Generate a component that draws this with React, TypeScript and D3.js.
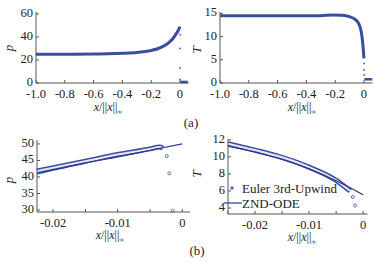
import React from "react";
import * as d3 from "d3";

// ---------- data ----------
// Panel (a) left: pressure p vs x/||x||
const aPX = [-1, -0.8, -0.6, -0.5, -0.4, -0.3, -0.2, -0.15, -0.1, -0.07, -0.05, -0.03, -0.015, -0.005, 0];
const aPY = [25, 25, 25.2, 25.4, 25.8, 26.5, 28.3, 30, 33, 36, 38.5, 42, 45, 47.5, 49];
const aPShockX = [0.001, 0.001, 0.001, 0.001];
const aPShockY = [42, 30, 13, 3];
const aPPostX = [0.003, 0.055];
const aPPostY = [0.9, 0.9];

// Panel (a) right: temperature T
const aTX = [-1, -0.6, -0.3, -0.22, -0.15, -0.1, -0.07, -0.05, -0.035, -0.02, -0.01, -0.004, 0];
const aTY = [14.5, 14.5, 14.5, 14.65, 14.6, 14.3, 13.9, 13.4, 12.7, 11.2, 9, 7, 5.3];
const aTShockX = [0.001, 0.001, 0.001];
const aTShockY = [4.2, 2.8, 1.7];
const aTPostX = [0.003, 0.058];
const aTPostY = [0.8, 0.8];

// Panel (b) left: zoom p
const bPZndX = [-0.0225, -0.015, -0.01, -0.005, 0];
const bPZndY = [40.9, 44.2, 46.1, 48.1, 50.0];
const bPEulX = [-0.0225, -0.015, -0.01, -0.005, -0.0035, -0.003];
const bPEulY = [41.8, 44.8, 46.8, 48.5, 49.1, 48.8];
const bPDotX = [-0.0024, -0.002, -0.0015];
const bPDotY = [46.3, 41.1, 29.8];

// Panel (b) right: zoom T
const bTZndX = [-0.025, -0.02, -0.015, -0.01, -0.005, -0.0025, 0];
const bTZndY = [11.25, 10.55, 9.7, 8.6, 7.2, 6.4, 5.55];
const bTEulX = [-0.025, -0.02, -0.015, -0.01, -0.005, -0.0024];
const bTEulY = [11.55, 10.8, 9.95, 8.8, 7.25, 6.0];
const bTDotX = [-0.0019, -0.0015];
const bTDotY = [5.3, 4.3];

// ticks
const aXTicks = [-1, -0.8, -0.6, -0.4, -0.2, 0];
const aXTickLabels = ["-1.0", "-0.8", "-0.6", "-0.4", "-0.2", "0"];
const aPYTicks = [0, 20, 40, 60];
const aTYTicks = [0, 5, 10, 15];
const bXTicks = [-0.02, -0.015, -0.01, -0.005, 0];
const bXTickLabels = ["-0.02", "", "-0.01", "", "0"];
const bXTicksR = [-0.025, -0.02, -0.015, -0.01, -0.005, 0];
const bXTickLabelsR = ["", "-0.02", "", "-0.01", "", "0"];
const bPYTicks = [30, 35, 40, 45, 50];
const bTYTicks = [4, 6, 8, 10, 12];

const legendLabels = ["Euler 3rd-Upwind", "ZND-ODE"];

const FONT = "'Liberation Serif', 'Times New Roman', Times, serif";
const EUL = "#3a4da0";
const ZND = "#2a3a8a";
const DOT = "#5c6db3";
const AXIS = "#555";

const zip = (xs: number[], ys: number[]) => xs.map((x, i) => [x, ys[i]] as [number, number]);

type PanelProps = {
  xDomain: [number, number];
  xRange: [number, number];
  yDomain: [number, number];
  yRange: [number, number];
  xTicks: number[];
  xLabels: string[];
  yTicks: number[];
  yLabel: string;
  yLabelPos: [number, number];
  xLabelPos: [number, number];
  children: (x: d3.ScaleLinear<number, number>, y: d3.ScaleLinear<number, number>) => React.ReactNode;
};

function Panel(p: PanelProps) {
  const x = d3.scaleLinear().domain(p.xDomain).range(p.xRange);
  const y = d3.scaleLinear().domain(p.yDomain).range(p.yRange);
  const y0 = p.yRange[0];
  const x0 = p.xRange[0];
  return (
    <g>
      {p.children(x, y)}
      <line x1={x0} x2={p.xRange[1]} y1={y0} y2={y0} stroke={AXIS} strokeWidth={1} />
      <line x1={x0} x2={x0} y1={y0} y2={p.yRange[1]} stroke={AXIS} strokeWidth={1} />
      {p.xTicks.map((t, i) => (
        <g key={"xt" + i}>
          <line x1={x(t)} x2={x(t)} y1={y0} y2={y0 - 3} stroke={AXIS} />
          <text x={x(t)} y={y0 + 15} textAnchor="middle" fontSize={12.5} fontFamily={FONT} fill="#222">
            {p.xLabels[i]}
          </text>
        </g>
      ))}
      {p.yTicks.map((t, i) => (
        <g key={"yt" + i}>
          <line x1={x0} x2={x0 + 3} y1={y(t)} y2={y(t)} stroke={AXIS} />
          <text x={x0 - 3} y={y(t) + 3} textAnchor="end" fontSize={12.5} fontFamily={FONT} fill="#222">
            {String(t)}
          </text>
        </g>
      ))}
      <text
        transform={`translate(${p.yLabelPos[0]},${p.yLabelPos[1]}) rotate(-90)`}
        textAnchor="middle"
        fontSize={13}
        fontStyle="italic"
        fontFamily={FONT}
        fill="#222"
      >
        {p.yLabel}
      </text>
      <text x={p.xLabelPos[0]} y={p.xLabelPos[1]} textAnchor="middle" fontSize={12} fontFamily={FONT} fill="#222">
        <tspan fontStyle="italic">x</tspan>/||<tspan fontStyle="italic">x</tspan>||
        <tspan fontSize={7} dy={3}>∞</tspan>
      </text>
    </g>
  );
}

export default function App() {
  const line = (x: d3.ScaleLinear<number, number>, y: d3.ScaleLinear<number, number>, curve = d3.curveMonotoneX) =>
    d3
      .line<[number, number]>()
      .x((d) => x(d[0]))
      .y((d) => y(d[1]))
      .curve(curve);

  return (
    <svg width={383} height={262} style={{ position: "absolute", left: 0, top: 0, background: "#fff" }}>
      <rect width={383} height={262} fill="#fff" />
      {/* (a) left */}
      <Panel
        xDomain={[-1, 0.06]}
        xRange={[36, 188.6]}
        yDomain={[0, 61.7]}
        yRange={[83, 12]}
        xTicks={aXTicks}
        xLabels={aXTickLabels}
        yTicks={aPYTicks}
        yLabel="p"
        yLabelPos={[13, 48]}
        xLabelPos={[108, 111]}
      >
        {(x, y) => (
          <g>
            <path d={line(x, y)(zip(aPX, aPY)) || ""} fill="none" stroke={EUL} strokeWidth={3} />
            <path d={line(x, y, d3.curveLinear)(zip(aPPostX, aPPostY)) || ""} fill="none" stroke={EUL} strokeWidth={2.5} />
            {zip(aPShockX, aPShockY).map((d, i) => (
              <circle key={i} cx={x(d[0])} cy={y(d[1])} r={1} fill={DOT} />
            ))}
          </g>
        )}
      </Panel>
      {/* (a) right */}
      <Panel
        xDomain={[-1, 0.06]}
        xRange={[220, 372.6]}
        yDomain={[0, 15.3]}
        yRange={[83, 12]}
        xTicks={aXTicks}
        xLabels={aXTickLabels}
        yTicks={aTYTicks}
        yLabel="T"
        yLabelPos={[201, 50]}
        xLabelPos={[302, 111]}
      >
        {(x, y) => (
          <g>
            <path d={line(x, y)(zip(aTX, aTY)) || ""} fill="none" stroke={EUL} strokeWidth={3} />
            <path d={line(x, y, d3.curveLinear)(zip(aTPostX, aTPostY)) || ""} fill="none" stroke={EUL} strokeWidth={2.5} />
            {zip(aTShockX, aTShockY).map((d, i) => (
              <circle key={i} cx={x(d[0])} cy={y(d[1])} r={1} fill={DOT} />
            ))}
          </g>
        )}
      </Panel>
      {/* (b) left */}
      <Panel
        xDomain={[-0.0225, 0.0012]}
        xRange={[37, 190]}
        yDomain={[29.4, 51.2]}
        yRange={[212, 140]}
        xTicks={bXTicks}
        xLabels={bXTickLabels}
        yTicks={bPYTicks}
        yLabel="p"
        yLabelPos={[13, 180]}
        xLabelPos={[110, 239]}
      >
        {(x, y) => (
          <g>
            <path d={line(x, y)(zip(bPEulX, bPEulY)) || ""} fill="none" stroke={EUL} strokeWidth={5} />
            <path d={line(x, y)(zip(bPEulX, bPEulY)) || ""} fill="none" stroke="#e6e8f2" strokeWidth={2} />
            <path d={line(x, y)(zip(bPZndX, bPZndY)) || ""} fill="none" stroke={ZND} strokeWidth={1.2} />
            {zip(bPDotX, bPDotY).map((d, i) => (
              <circle key={i} cx={x(d[0])} cy={y(d[1])} r={1.5} fill="#fff" stroke={DOT} strokeWidth={1} />
            ))}
          </g>
        )}
      </Panel>
      {/* (b) right */}
      <Panel
        xDomain={[-0.025, 0.0008]}
        xRange={[228, 367.5]}
        yDomain={[3.3, 12.1]}
        yRange={[214, 139]}
        xTicks={bXTicksR}
        xLabels={bXTickLabelsR}
        yTicks={bTYTicks}
        yLabel="T"
        yLabelPos={[201, 174]}
        xLabelPos={[302, 241]}
      >
        {(x, y) => (
          <g>
            <path d={line(x, y)(zip(bTEulX, bTEulY)) || ""} fill="none" stroke={EUL} strokeWidth={5} />
            <path d={line(x, y)(zip(bTEulX, bTEulY)) || ""} fill="none" stroke="#e6e8f2" strokeWidth={2} />
            <path d={line(x, y)(zip(bTZndX, bTZndY)) || ""} fill="none" stroke={ZND} strokeWidth={1.2} />
            {zip(bTDotX, bTDotY).map((d, i) => (
              <circle key={i} cx={x(d[0])} cy={y(d[1])} r={1.5} fill="#fff" stroke={DOT} strokeWidth={1} />
            ))}
          </g>
        )}
      </Panel>
      {/* legend */}
      <g fontFamily={FONT} fontSize={13} fill="#222">
        <circle cx={232} cy={188} r={1.5} fill={DOT} stroke={DOT} strokeWidth={0.5} />
        <text x={242} y={193}>{legendLabels[0]}</text>
        <line x1={224} x2={242} y1={203} y2={203} stroke={ZND} strokeWidth={1.2} />
        <text x={242} y={207.5}>{legendLabels[1]}</text>
      </g>
      <text x={191} y={127} textAnchor="middle" fontFamily={FONT} fontSize={13} fill="#222">(a)</text>
      <text x={197} y={255} textAnchor="middle" fontFamily={FONT} fontSize={13} fill="#222">(b)</text>
    </svg>
  );
}
